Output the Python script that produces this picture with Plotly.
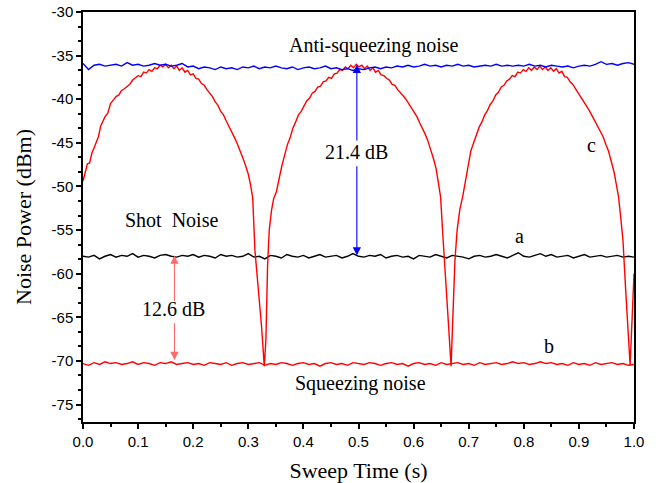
import numpy as np
import plotly.graph_objects as go

# ---------------- data ----------------
anti_squeezing = [
    -35.9, -36.6, -36.1, -36.0, -36.2, -36.1, -36.0, -36.2, -35.8, -36.1,
    -36.0, -36.2, -36.1, -35.9, -36.1, -36.0, -36.2, -36.1, -35.9, -36.3,
    -36.2, -36.5, -36.3, -36.4, -36.6, -36.3, -36.5, -36.4, -36.6, -36.3,
    -36.4, -36.2, -36.5, -36.3, -36.4, -36.2, -36.4, -36.5, -36.3, -36.6,
    -36.4, -36.3, -36.5, -36.4, -36.2, -36.5, -36.4, -36.6, -36.5, -36.7,
    -36.5, -36.6, -36.4, -36.3, -36.5, -36.3, -36.4, -36.2, -36.3, -36.1,
    -36.3, -36.2, -36.0, -36.2, -36.1, -36.3, -36.1, -36.2, -36.0, -36.2,
    -36.1, -36.3, -36.2, -36.1, -36.2, -36.0, -36.2, -36.1, -36.2, -36.1,
    -36.2, -36.0, -36.2, -36.1, -36.3, -36.1, -36.2, -36.3, -36.2, -36.4,
    -36.2, -36.1, -36.2, -36.0, -35.7, -36.0, -35.9, -36.1, -35.9, -35.8,
    -36.0,
]

shot_noise = [
    -58.0, -58.1, -57.9, -58.3, -58.0, -57.8, -58.1, -57.9, -58.0, -57.7,
    -58.1, -57.9, -58.0, -58.2, -57.9, -57.8, -58.0, -58.1, -57.9, -58.0,
    -57.8, -58.1, -57.9, -58.0, -58.2, -57.8, -58.0, -57.9, -58.1, -58.0,
    -57.7, -58.1, -58.0, -58.3, -57.9, -58.0, -58.2, -57.8, -58.0, -58.1,
    -57.9, -58.2, -58.0, -57.8, -58.1, -58.0, -57.9, -58.2, -58.0, -57.7,
    -58.0, -58.1, -57.9, -58.0, -57.8, -58.2, -58.0, -57.9, -58.1, -58.0,
    -58.3, -57.9, -58.0, -58.1, -57.8, -58.0, -58.2, -57.9, -58.0, -58.1,
    -58.3, -58.0, -57.9, -58.1, -58.0, -57.8, -58.0, -58.2, -57.9, -57.6,
    -58.0, -58.1, -57.9, -57.7, -58.0, -57.8, -58.1, -58.0, -57.9, -58.2,
    -58.0, -57.8, -58.1, -58.0, -57.9, -58.1, -58.0, -57.9, -58.1, -58.0,
    -58.1,
]

squeezing = [
    -70.3, -70.5, -70.2, -70.4, -70.1, -70.3, -70.2, -70.4, -70.3, -70.1,
    -70.4, -70.2, -70.3, -70.5, -70.2, -70.3, -70.1, -70.4, -70.3, -70.2,
    -70.4, -70.3, -70.5, -70.2, -70.3, -70.4, -70.2, -70.5, -70.3, -70.2,
    -70.4, -70.3, -70.2, -70.5, -70.3, -70.4, -70.2, -70.3, -70.5, -70.3,
    -70.2, -70.4, -70.3, -70.6, -70.3, -70.2, -70.4, -70.3, -70.5, -70.2,
    -70.3, -70.4, -70.2, -70.3, -70.5, -70.3, -70.2, -70.4, -70.3, -70.6,
    -70.3, -70.2, -70.4, -70.3, -70.5, -70.2, -70.4, -70.3, -70.2, -70.4,
    -70.3, -70.5, -70.2, -70.4, -70.3, -70.2, -70.4, -70.3, -70.1, -70.3,
    -70.2, -70.4, -70.3, -70.1, -70.3, -70.2, -70.4, -70.3, -70.5, -70.2,
    -70.4, -70.3, -70.5, -70.2, -70.4, -70.3, -70.2, -70.4, -70.3, -70.5,
    -70.4,
]

phase_scan_time = [
    0.000, 0.004, 0.008, 0.012, 0.016, 0.020, 0.024, 0.028, 0.032, 0.036,
    0.040, 0.045, 0.050, 0.055, 0.060, 0.065, 0.070, 0.075, 0.080, 0.085,
    0.090, 0.095, 0.100, 0.105, 0.110, 0.115, 0.120, 0.125, 0.130, 0.135,
    0.140, 0.145, 0.150, 0.155, 0.160, 0.165, 0.170, 0.175, 0.180, 0.185,
    0.190, 0.195, 0.200, 0.205, 0.210, 0.215, 0.220, 0.225, 0.230, 0.235,
    0.240, 0.245, 0.250, 0.255, 0.260, 0.265, 0.270, 0.275, 0.280, 0.285,
    0.290, 0.295, 0.300, 0.304, 0.308, 0.312, 0.318, 0.324, 0.329, 0.332,
    0.335, 0.338, 0.342, 0.346, 0.351, 0.356, 0.361, 0.366, 0.371, 0.376,
    0.381, 0.386, 0.391, 0.396, 0.401, 0.406, 0.411, 0.416, 0.421, 0.426,
    0.431, 0.436, 0.441, 0.446, 0.451, 0.456, 0.461, 0.466, 0.471, 0.476,
    0.481, 0.486, 0.491, 0.496, 0.501, 0.506, 0.511, 0.516, 0.521, 0.526,
    0.531, 0.536, 0.541, 0.546, 0.551, 0.556, 0.561, 0.566, 0.571, 0.576,
    0.581, 0.586, 0.591, 0.596, 0.601, 0.606, 0.611, 0.616, 0.621, 0.626,
    0.631, 0.636, 0.641, 0.645, 0.649, 0.653, 0.659, 0.664, 0.668, 0.671,
    0.675, 0.679, 0.684, 0.689, 0.694, 0.699, 0.704, 0.709, 0.714, 0.719,
    0.724, 0.729, 0.734, 0.739, 0.744, 0.749, 0.754, 0.759, 0.764, 0.769,
    0.774, 0.779, 0.784, 0.789, 0.794, 0.799, 0.804, 0.809, 0.814, 0.819,
    0.824, 0.829, 0.834, 0.839, 0.844, 0.849, 0.854, 0.859, 0.864, 0.869,
    0.874, 0.879, 0.884, 0.889, 0.894, 0.899, 0.904, 0.909, 0.914, 0.919,
    0.924, 0.929, 0.934, 0.939, 0.944, 0.949, 0.954, 0.959, 0.964, 0.968,
    0.972, 0.976, 0.980, 0.985, 0.990, 0.993, 0.996, 0.998, 1.000,
]

phase_scan = [
    -49.4, -48.2, -47.4, -47.3, -46.2, -45.6, -45.0, -44.3, -43.1, -42.6,
    -42.0, -41.6, -40.5, -40.1, -39.7, -39.5, -39.0, -38.8, -38.5, -38.3,
    -37.8, -37.5, -37.3, -37.4, -36.9, -37.0, -36.6, -36.8, -36.4, -36.5,
    -36.1, -36.3, -36.0, -36.4, -36.1, -36.5, -36.2, -36.7, -36.4, -36.9,
    -36.7, -37.2, -37.1, -37.6, -37.7, -38.2, -38.4, -38.9, -39.3, -39.7,
    -40.3, -40.7, -41.4, -41.8, -42.5, -43.1, -43.8, -44.4, -45.1, -45.8,
    -46.7, -47.6, -48.6, -49.8, -51.3, -57.3, -61.5, -66.0, -70.6, -67.5,
    -59.0, -55.0, -52.8, -51.4, -50.6, -49.0, -47.6, -46.4, -45.2, -44.4,
    -43.3, -42.6, -41.8, -41.4, -40.7, -40.2, -39.9, -39.3, -39.1, -38.6,
    -38.5, -38.0, -37.9, -37.5, -37.6, -37.1, -37.0, -36.6, -36.7, -36.3,
    -36.5, -36.1, -36.4, -36.0, -36.3, -36.1, -36.5, -36.2, -36.7, -36.4,
    -36.9, -36.7, -37.2, -37.3, -37.6, -37.8, -38.3, -38.4, -38.9, -39.2,
    -39.6, -40.0, -40.5, -41.0, -41.5, -42.0, -42.7, -43.3, -44.0, -44.8,
    -45.7, -46.8, -48.0, -49.4, -51.2, -55.5, -61.0, -66.5, -70.6, -66.0,
    -58.5, -55.0, -52.6, -51.2, -49.4, -47.4, -45.9, -45.0, -44.1, -43.2,
    -42.6, -41.8, -41.3, -40.6, -40.2, -39.5, -39.2, -38.6, -38.4, -37.9,
    -37.7, -37.3, -37.4, -36.9, -37.0, -36.6, -36.8, -36.4, -36.7, -36.3,
    -36.6, -36.2, -36.6, -36.3, -36.7, -36.4, -36.8, -36.5, -37.0, -36.8,
    -37.4, -37.5, -38.0, -38.3, -38.8, -39.3, -39.7, -40.3, -40.8, -41.3,
    -41.9, -42.5, -43.0, -43.7, -44.3, -45.2, -46.0, -47.2, -48.4, -49.8,
    -51.2, -53.6, -56.2, -62.0, -67.5, -70.5, -66.0, -62.0, -60.0,
]

x_ticks = [0.0, 0.1, 0.2, 0.3, 0.4, 0.5, 0.6, 0.7, 0.8, 0.9, 1.0]
y_ticks = [-75, -70, -65, -60, -55, -50, -45, -40, -35, -30]
y_tick_labels = ["-75", "-70", "-65", "-60", "-55", "-50", "-45", "-40", "-35", "-30"]

# sweep sampling (uniform over the 1 s sweep)
t_blue = np.linspace(0, 1, len(anti_squeezing))
t_black = np.linspace(0, 1, len(shot_noise))
t_red = np.linspace(0, 1, len(squeezing))

SERIF = "Liberation Serif, Times New Roman, serif"
SANS = "Liberation Sans, Arial, sans-serif"

fig = go.Figure()
fig.add_trace(go.Scatter(x=t_red, y=squeezing, mode="lines",
                         line=dict(color="#ff0000", width=1.4), hoverinfo="skip"))
fig.add_trace(go.Scatter(x=t_black, y=shot_noise, mode="lines",
                         line=dict(color="#000000", width=1.4), hoverinfo="skip"))
fig.add_trace(go.Scatter(x=phase_scan_time, y=phase_scan, mode="lines",
                         line=dict(color="#ff0000", width=1.4), hoverinfo="skip"))
fig.add_trace(go.Scatter(x=t_blue, y=anti_squeezing, mode="lines",
                         line=dict(color="#0000ff", width=1.4), hoverinfo="skip"))

labels = [
    ("Anti-squeezing noise", 0.529, -33.8),
    ("21.4 dB", 0.497, -46.1),
    ("c", 0.922, -45.2),
    ("Shot  Noise", 0.160, -53.9),
    ("a", 0.792, -55.7),
    ("12.6 dB", 0.165, -64.1),
    ("b", 0.846, -68.3),
    ("Squeezing noise", 0.504, -72.6),
]
for txt, x, y in labels:
    fig.add_annotation(x=x, y=y, text=txt, showarrow=False,
                       xanchor="center", yanchor="middle",
                       font=dict(family=SERIF, size=20, color="black"))

arrows = [
    (0.497, -36.05, -44.9, "#0000ff"),
    (0.497, -57.9, -47.5, "#0000ff"),
    (0.166, -57.9, -63.3, "#ff6a6a"),
    (0.166, -69.9, -65.5, "#ff6a6a"),
]
for x, tip, tail, col in arrows:
    fig.add_annotation(x=x, y=tip, ax=x, ay=tail, axref="x", ayref="y",
                       xref="x", yref="y", text="", showarrow=True,
                       arrowhead=2, arrowsize=1.5, arrowwidth=1.1,
                       arrowcolor=col, standoff=0, startstandoff=0)

fig.update_layout(
    width=670, height=483,
    margin=dict(l=83, r=36, t=12, b=61),
    paper_bgcolor="white", plot_bgcolor="white",
    showlegend=False,
    xaxis=dict(
        range=[0, 1], tickvals=x_ticks, tickformat=".1f", automargin=False,
        ticks="outside", ticklen=5, tickwidth=1.5, tickcolor="black",
        showline=True, linewidth=1.5, linecolor="black", mirror=True,
        showgrid=False, zeroline=False,
        tickfont=dict(family=SANS, size=15, color="black"),
        minor=dict(dtick=0.05, tick0=0, ticks="outside", ticklen=3,
                   tickwidth=1.5, tickcolor="black", showgrid=False),
        title=dict(text="Sweep Time (s)", standoff=14,
                   font=dict(family=SERIF, size=22, color="black")),
    ),
    yaxis=dict(
        range=[-77, -30], tickvals=y_ticks, ticktext=y_tick_labels, automargin=False,
        ticks="outside", ticklen=5, tickwidth=1.5, tickcolor="black",
        showline=True, linewidth=1.5, linecolor="black", mirror=True,
        showgrid=False, zeroline=False,
        tickfont=dict(family=SANS, size=15, color="black"),
        minor=dict(dtick=5 / 3, tick0=-30, ticks="outside", ticklen=3,
                   tickwidth=1.5, tickcolor="black", showgrid=False),
        title=dict(text="Noise Power (dBm)", standoff=14,
                   font=dict(family=SERIF, size=22, color="black")),
    ),
)

fig.write_html("out.html", config={"displayModeBar": False},
               post_script="document.body.style.margin='0';")
